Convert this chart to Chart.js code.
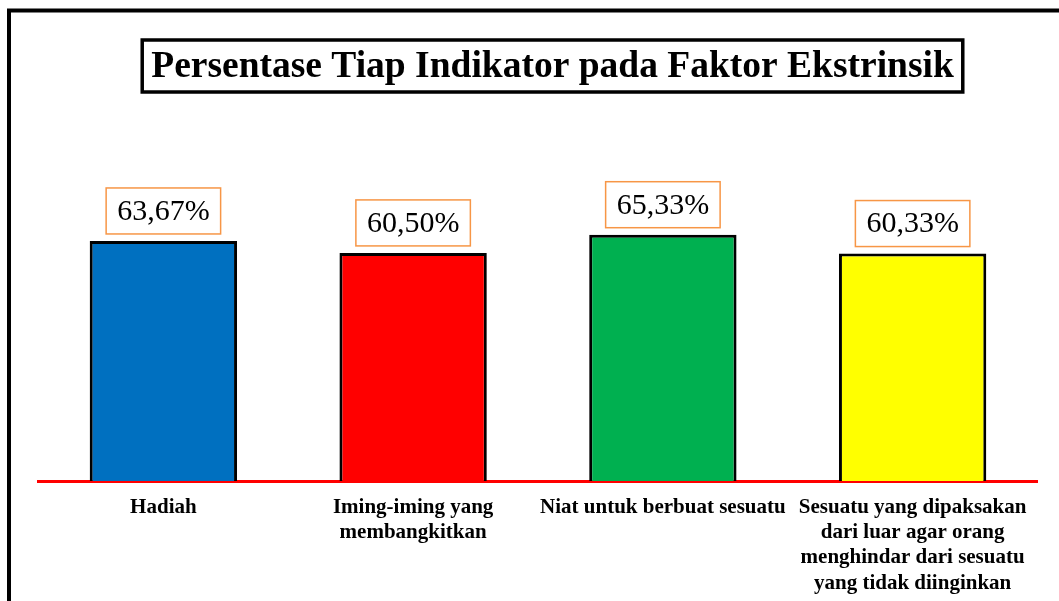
<!DOCTYPE html>
<html>
<head>
<meta charset="utf-8">
<script src="https://cdn.jsdelivr.net/npm/chart.js@4.4.1/dist/chart.umd.min.js"></script>
<style>
    html, body { margin: 0; padding: 0; background: #ffffff; }
    #wrap { width: 1059px; height: 601px; position: relative; }
</style>
</head>
<body>
<div id="wrap"><canvas id="chart"></canvas></div>
<script>
// Data
const chartTitle = 'Persentase Tiap Indikator pada Faktor Ekstrinsik';
const categories = [
    ['Hadiah'],
    ['Iming-iming yang', 'membangkitkan'],
    ['Niat untuk berbuat sesuatu'],
    ['Sesuatu yang dipaksakan', 'dari luar agar orang', 'menghindar dari sesuatu', 'yang tidak diinginkan']
];
const values = [63.67, 60.50, 65.33, 60.33];
const valueLabels = ['63,67%', '60,50%', '65,33%', '60,33%'];
const barColors = ['#0070C0', '#FF0000', '#00B050', '#FFFF00'];

const serif = '"Liberation Serif", "Times New Roman", serif';

// White background + outer frame + boxed title
const framePlugin = {
    id: 'frame',
    beforeDraw(chart) {
        const ctx = chart.ctx;
        ctx.save();
        ctx.fillStyle = '#ffffff';
        ctx.fillRect(0, 0, chart.width, chart.height);
        ctx.strokeStyle = '#000000';
        ctx.lineWidth = 4;
        ctx.strokeRect(9, 10.5, chart.width + 20, chart.height + 20);

        // title
        ctx.font = 'bold 37.5px ' + serif;
        ctx.textAlign = 'center';
        ctx.textBaseline = 'middle';
        ctx.fillStyle = '#000000';
        const cx = 552.5, cy = 66;
        const tw = ctx.measureText(chartTitle).width;
        ctx.fillText(chartTitle, cx, cy + 1);
        ctx.lineWidth = 3.5;
        ctx.strokeRect(cx - tw / 2 - 9, 40, tw + 18, 52);
        ctx.restore();
    }
};

// Boxed value labels above bars
const valueBoxPlugin = {
    id: 'valueBoxes',
    afterDatasetsDraw(chart) {
        const ctx = chart.ctx;
        const meta = chart.getDatasetMeta(0);
        ctx.save();
        ctx.font = '30px ' + serif;
        ctx.textAlign = 'center';
        ctx.textBaseline = 'middle';
        meta.data.forEach((bar, i) => {
            const text = valueLabels[i];
            const tw = ctx.measureText(text).width;
            const w = tw + 22;
            const h = 46;
            const bottom = bar.y - 7;
            ctx.fillStyle = '#ffffff';
            ctx.fillRect(bar.x - w / 2, bottom - h, w, h);
            ctx.strokeStyle = '#F79646';
            ctx.lineWidth = 1.5;
            ctx.strokeRect(bar.x - w / 2, bottom - h, w, h);
            ctx.fillStyle = '#000000';
            ctx.fillText(text, bar.x, bottom - h / 2 + 1);
        });
        ctx.restore();
    }
};

function renderChart() {
    const ctx = document.getElementById('chart').getContext('2d');
    new Chart(ctx, {
        type: 'bar',
        data: {
            labels: categories,
            datasets: [{
                data: values,
                backgroundColor: barColors,
                borderColor: '#000000',
                borderWidth: 3,
                borderSkipped: 'start',
                categoryPercentage: 1,
                barPercentage: 0.59
            }]
        },
        options: {
            responsive: true,
            maintainAspectRatio: false,
            animation: false,
            layout: {
                padding: { top: 104, left: 38.5, right: 21.5, bottom: 0 }
            },
            plugins: {
                legend: { display: false },
                title: { display: false },
                tooltip: { enabled: false }
            },
            scales: {
                x: {
                    z: 1,
                    grid: { display: false },
                    border: { display: true, color: '#FF0000', width: 3 },
                    afterFit(scale) { scale.height = 120; },
                    ticks: {
                        color: '#000000',
                        padding: 6,
                        maxRotation: 0,
                        autoSkip: false,
                        font: { family: serif, size: 21, weight: 'bold', lineHeight: 1.2 }
                    }
                },
                y: {
                    display: false,
                    min: 0,
                    max: 100
                }
            }
        },
        plugins: [framePlugin, valueBoxPlugin]
    });
}

document.addEventListener('DOMContentLoaded', renderChart);
</script>
</body>
</html>
